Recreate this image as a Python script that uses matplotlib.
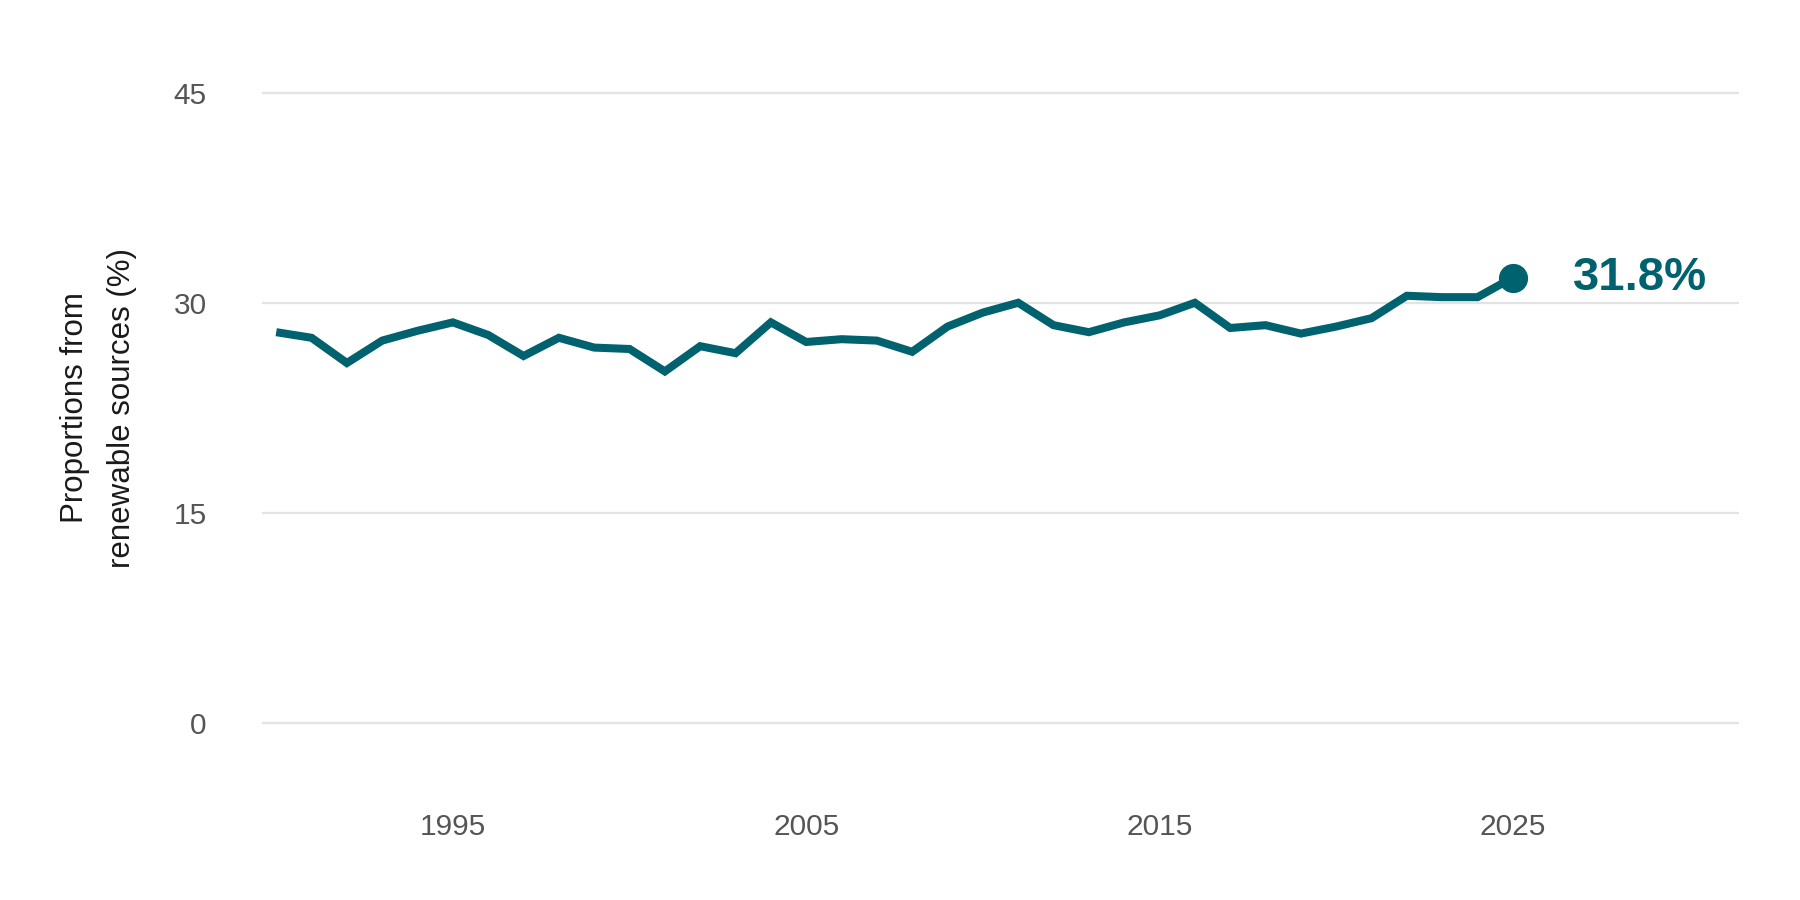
import matplotlib
matplotlib.use("Agg")
import matplotlib.pyplot as plt

plt.rcParams['font.family'] = ['Liberation Sans', 'DejaVu Sans']

# values
years = list(range(1990, 2026))
renewable_share = [
    27.9, 27.5, 25.7, 27.3, 28.0, 28.6, 27.7, 26.2, 27.5, 26.8,
    26.7, 25.1, 26.9, 26.4, 28.6, 27.2, 27.4, 27.3, 26.5, 28.3,
    29.3, 30.0, 28.4, 27.9, 28.6, 29.1, 30.0, 28.2, 28.4, 27.8,
    28.3, 28.9, 30.5, 30.4, 30.4, 31.8,
]
y_ticks = [0, 15, 30, 45]
x_ticks = [1995, 2005, 2015, 2025]
last_label = '31.8%'

teal = '#00626F'

fig = plt.figure(figsize=(18, 9), dpi=100)
ax = fig.add_axes([0.1456, 0.1033, 0.8205, 0.856])

ax.plot(years, renewable_share, color=teal, linewidth=5.8, solid_joinstyle='miter',
        solid_capstyle='butt', zorder=3)
ax.plot(years[-1], renewable_share[-1], 'o', color=teal, markersize=20, zorder=4)
ax.annotate(last_label, (years[-1], renewable_share[-1]), xytext=(43, 0),
            textcoords='offset points', ha='left', va='center',
            fontsize=34, fontweight='bold', color=teal)

ax.set_xlim(1989.6, 2031.4)
ax.set_ylim(-6, 49)
ax.set_yticks(y_ticks)
ax.set_xticks(x_ticks)
ax.yaxis.grid(True, color='#E3E3E3', linewidth=1.6)
ax.set_axisbelow(True)
for s in ax.spines.values():
    s.set_visible(False)
ax.tick_params(axis='y', length=0, pad=40, labelsize=21.5, labelcolor='#555555')
ax.tick_params(axis='x', length=0, pad=4, labelsize=21.5, labelcolor='#555555')

fig.text(0.0548, 0.547, 'Proportions from\nrenewable sources (%)', rotation=90,
         ha='center', va='center', multialignment='center', fontsize=22.5,
         color='#1a1a1a', linespacing=1.75)

fig.savefig('out.png', dpi=100, facecolor='white')
